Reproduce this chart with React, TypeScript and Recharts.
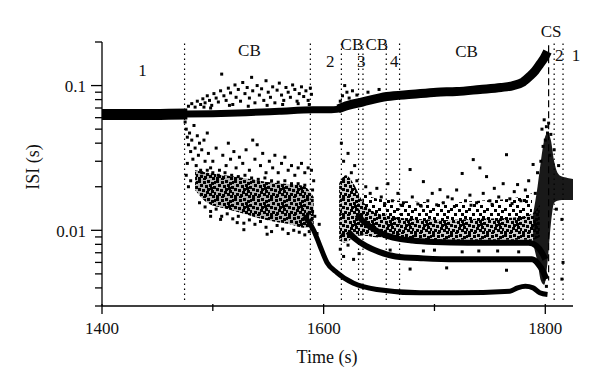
import React from 'react';
import {
  ComposedChart,
  Line,
  Area,
  Scatter,
  XAxis,
  YAxis,
  ReferenceLine,
  ReferenceDot,
} from 'recharts';

// ---- data (time in s, ISI in s) ----

// main ISI band on top (~0.065 s), split where its width changes
const topBandStart: number[][] = [
  [1400, 0.063], [1420, 0.0632], [1440, 0.063], [1460, 0.0633], [1477, 0.0635],
];
const topBandMid: number[][] = [
  [1475, 0.0635], [1500, 0.064], [1530, 0.065], [1560, 0.0665], [1590, 0.068],
  [1605, 0.068], [1615, 0.069],
];
const topBandEnd: number[][] = [
  [1613, 0.069], [1622, 0.073], [1635, 0.077], [1657, 0.084], [1680, 0.087],
  [1702, 0.09], [1720, 0.091], [1741, 0.094], [1760, 0.097], [1771, 0.1],
  [1780, 0.106], [1786, 0.116], [1791, 0.127], [1795, 0.14], [1799, 0.155],
  [1802, 0.172],
];

// shortest ISI branch
const bottomBand: number[][] = [
  [1582, 0.0125], [1588, 0.011], [1591, 0.01], [1597, 0.0077], [1603, 0.006],
  [1612, 0.0051], [1627, 0.0043], [1648, 0.0039], [1687, 0.0037], [1720, 0.0037],
  [1768, 0.0038], [1775, 0.004], [1782, 0.0041], [1789, 0.004], [1795, 0.0037],
  [1802, 0.0036],
];

// two middle branches after 1616 s
const bandA: number[][] = [
  [1630, 0.0128], [1636, 0.0115], [1645, 0.0102], [1655, 0.0093], [1666, 0.0088],
  [1680, 0.0085], [1700, 0.0083], [1730, 0.0082], [1760, 0.0082], [1785, 0.0082],
  [1792, 0.0078], [1797, 0.007], [1800, 0.0063],
];
const bandB: number[][] = [
  [1622, 0.0098], [1628, 0.0088], [1638, 0.0078], [1650, 0.0071], [1665, 0.0066],
  [1690, 0.0064], [1720, 0.0063], [1760, 0.0063], [1788, 0.0063], [1794, 0.0058],
  [1798, 0.0052], [1801, 0.0046],
];

// dense cores of the clouds: [time, low, high]
const leftCore: number[][] = [
  [1484, 0.019, 0.026], [1495, 0.0155, 0.025], [1510, 0.0142, 0.024],
  [1525, 0.0132, 0.0232], [1540, 0.0122, 0.0222], [1555, 0.0115, 0.0213],
  [1570, 0.011, 0.0208], [1582, 0.0104, 0.0202], [1591, 0.0105, 0.017],
];
const rightCoreDense: number[][] = [
  [1614, 0.0085, 0.021], [1620, 0.0082, 0.024], [1627, 0.009, 0.021],
  [1635, 0.0092, 0.016], [1645, 0.009, 0.0135], [1660, 0.0088, 0.0125],
  [1680, 0.0087, 0.012], [1710, 0.0086, 0.0118], [1740, 0.0086, 0.012],
  [1770, 0.0086, 0.0122], [1788, 0.0086, 0.013], [1795, 0.009, 0.015],
];
const rightCoreLight: number[][] = [
  [1635, 0.015, 0.018], [1645, 0.013, 0.0168], [1660, 0.012, 0.0162],
  [1680, 0.0115, 0.0158], [1710, 0.0113, 0.0155], [1740, 0.0115, 0.016],
  [1770, 0.0117, 0.0166], [1788, 0.0125, 0.018],
];
const spikeCore: number[][] = [
  [1789, 0.008, 0.013], [1793, 0.006, 0.02], [1796, 0.0045, 0.03],
  [1799, 0.0042, 0.042], [1802, 0.006, 0.047], [1805, 0.011, 0.042],
  [1808, 0.0155, 0.03], [1811, 0.016, 0.025], [1815, 0.0162, 0.0235],
  [1820, 0.0162, 0.023], [1825, 0.0162, 0.0226],
];

// scattered spikes
const upperCloud: number[][] = [
  [1478, 0.072], [1481, 0.075], [1484, 0.071], [1486, 0.078], [1489, 0.074],
  [1491, 0.081], [1493, 0.076], [1495, 0.085], [1497, 0.079], [1499, 0.073],
  [1501, 0.088], [1503, 0.082], [1505, 0.077], [1507, 0.092], [1508, 0.12],
  [1510, 0.085], [1512, 0.079], [1514, 0.096], [1516, 0.089], [1518, 0.074],
  [1520, 0.101], [1521, 0.083], [1523, 0.094], [1525, 0.078], [1527, 0.105],
  [1529, 0.088], [1531, 0.097], [1533, 0.082], [1535, 0.114], [1536, 0.092],
  [1538, 0.076], [1540, 0.1], [1542, 0.086], [1544, 0.095], [1546, 0.079],
  [1548, 0.108], [1550, 0.09], [1552, 0.083], [1554, 0.098], [1556, 0.076],
  [1558, 0.093], [1560, 0.104], [1562, 0.086], [1564, 0.079], [1566, 0.097],
  [1568, 0.09], [1570, 0.083], [1572, 0.101], [1574, 0.094], [1576, 0.078],
  [1578, 0.088], [1580, 0.098], [1582, 0.084], [1584, 0.092], [1586, 0.079],
  [1588, 0.096], [1589, 0.087], [1615, 0.078], [1617, 0.085], [1619, 0.1],
  [1621, 0.09], [1623, 0.082], [1626, 0.092], [1630, 0.086], [1640, 0.09],
  [1650, 0.094], [1492, 0.071], [1498, 0.07], [1515, 0.073], [1532, 0.072],
  [1549, 0.073], [1563, 0.074], [1577, 0.075], [1587, 0.074],
];
const leftCloud: number[][] = [
  [1475, 0.056], [1476, 0.05], [1477, 0.044], [1478, 0.039], [1479, 0.047],
  [1480, 0.035], [1481, 0.042], [1482, 0.031], [1483, 0.053], [1484, 0.037],
  [1485, 0.028], [1486, 0.045], [1487, 0.033], [1488, 0.04], [1489, 0.026],
  [1490, 0.036], [1492, 0.042], [1493, 0.03], [1495, 0.047], [1496, 0.034],
  [1498, 0.027], [1476, 0.024], [1478, 0.02], [1480, 0.022], [1477, 0.029],
  [1500, 0.03], [1503, 0.037], [1506, 0.026], [1509, 0.033], [1512, 0.028],
  [1514, 0.04], [1516, 0.031], [1519, 0.035], [1521, 0.027], [1524, 0.032],
  [1527, 0.029], [1530, 0.036], [1533, 0.026], [1536, 0.042], [1538, 0.031],
  [1540, 0.039], [1543, 0.028], [1545, 0.034], [1548, 0.025], [1551, 0.03],
  [1554, 0.027], [1556, 0.033], [1559, 0.025], [1562, 0.029], [1565, 0.032],
  [1568, 0.026], [1571, 0.028], [1574, 0.024], [1577, 0.027], [1580, 0.029],
  [1583, 0.025], [1586, 0.027], [1589, 0.026], [1591, 0.022], [1590, 0.019],
  [1490, 0.025], [1495, 0.026], [1500, 0.025], [1505, 0.024], [1511, 0.025],
  [1517, 0.024], [1523, 0.0235], [1529, 0.024], [1535, 0.023], [1541, 0.0225],
  [1547, 0.023], [1553, 0.022], [1559, 0.0215], [1565, 0.022], [1571, 0.021],
  [1577, 0.021], [1583, 0.0205], [1488, 0.0155], [1493, 0.0145], [1498, 0.0135],
  [1503, 0.014], [1508, 0.0125], [1513, 0.013], [1518, 0.012], [1523, 0.0125],
  [1528, 0.0112], [1533, 0.0118], [1538, 0.011], [1543, 0.0115], [1548, 0.0105],
  [1553, 0.0098], [1558, 0.0108], [1563, 0.0102], [1568, 0.0095], [1573, 0.01],
  [1578, 0.0097], [1583, 0.0093], [1587, 0.0098], [1498, 0.0125], [1522, 0.0113],
  [1549, 0.0094], [1528, 0.0101], [1507, 0.0119], [1586, 0.013], [1589, 0.0118],
  [1592, 0.0125], [1594, 0.0095], [1596, 0.011], [1590, 0.0135],
];
const rightCloud: number[][] = [
  [1625, 0.025], [1628, 0.028], [1618, 0.03], [1622, 0.034], [1616, 0.04],
  [1630, 0.022], [1638, 0.02], [1642, 0.018], [1648, 0.0195], [1652, 0.017],
  [1658, 0.021], [1662, 0.016], [1667, 0.018], [1672, 0.0155], [1678, 0.0263],
  [1680, 0.017], [1685, 0.0152], [1690, 0.0217], [1694, 0.016], [1698, 0.018],
  [1705, 0.0191], [1708, 0.0155], [1712, 0.017], [1716, 0.0165], [1720, 0.019],
  [1725, 0.0247], [1728, 0.016], [1732, 0.0175], [1735, 0.0308], [1738, 0.0155],
  [1741, 0.027], [1744, 0.018], [1747, 0.0235], [1750, 0.016], [1754, 0.0195],
  [1758, 0.017], [1762, 0.021], [1765, 0.0333], [1768, 0.0165], [1772, 0.0185],
  [1775, 0.0207], [1778, 0.016], [1782, 0.019], [1785, 0.022], [1789, 0.0285],
  [1791, 0.018], [1793, 0.025], [1615, 0.0074], [1618, 0.0066], [1627, 0.0063],
  [1622, 0.0079], [1632, 0.0069], [1678, 0.0054], [1711, 0.0055], [1765, 0.0053],
  [1740, 0.0072], [1700, 0.0073], [1655, 0.0153], [1670, 0.0149], [1688, 0.0147],
  [1702, 0.015], [1718, 0.0146], [1733, 0.0149], [1752, 0.0151], [1770, 0.0153],
  [1783, 0.0158], [1660, 0.0073], [1690, 0.0072], [1725, 0.0071], [1757, 0.0072],
  [1776, 0.0071],
];
const spikeCloud: number[][] = [
  [1797, 0.05], [1799, 0.058], [1800, 0.042], [1801, 0.052], [1802, 0.047],
  [1798, 0.038], [1803, 0.055], [1796, 0.03], [1804, 0.033], [1805, 0.046],
  [1801, 0.0041], [1799, 0.0046], [1797, 0.0055], [1815, 0.0119], [1816, 0.006],
  [1815, 0.0046], [1810, 0.014], [1812, 0.028], [1808, 0.036],
];

// dotted state boundaries, dashed CS onset
const boundaries = [1474.5, 1588, 1616, 1631.5, 1635.5, 1656.5, 1668.5, 1808, 1816];
const csOnset = 1803;

const regionLabels = [
  { t: 1436.6, v: 0.129, text: '1' },
  { t: 1533, v: 0.177, text: 'CB' },
  { t: 1606, v: 0.149, text: '2' },
  { t: 1625.5, v: 0.195, text: 'CB' },
  { t: 1648, v: 0.195, text: 'CB' },
  { t: 1634, v: 0.149, text: '3' },
  { t: 1663.7, v: 0.149, text: '4' },
  { t: 1729, v: 0.173, text: 'CB' },
  { t: 1805.3, v: 0.237, text: 'CS' },
  { t: 1812.5, v: 0.164, text: '2' },
  { t: 1827.6, v: 0.164, text: '1' },
];

const timeTicks = [1400, 1500, 1600, 1700, 1800];
const isiTicks = [
  0.003, 0.004, 0.005, 0.006, 0.007, 0.008, 0.009, 0.01,
  0.02, 0.03, 0.04, 0.05, 0.06, 0.07, 0.08, 0.09, 0.1, 0.2,
];
const isiLabels: Record<string, string> = { '0.1': '0.1', '0.01': '0.01' };

const FONT = '"Liberation Serif", "Times New Roman", serif';

const pts = (a: number[][]) => a.map(([t, v]) => ({ t, v }));
const rng = (a: number[][]) => a.map(([t, lo, hi]) => ({ t, r: [lo, hi] }));

// speckle textures so the dense clouds read as dots, not flat fills
const SPECK_DENSE = [
  [0, 0], [5, 1], [9, 0], [13, 2], [16, 1], [2, 4], [7, 5], [11, 4], [15, 6],
  [0, 8], [4, 9], [9, 8], [13, 10], [16, 12], [2, 13], [6, 14], [11, 13],
  [14, 15], [0, 15], [8, 11], [5, 16], [12, 7],
];
const SPECK_LIGHT = [
  [1, 1], [9, 2], [14, 0], [5, 6], [12, 7], [0, 10], [8, 11], [15, 12], [4, 15], [11, 15],
];

const Dot = (props: any) => {
  const { cx, cy } = props;
  if (cx == null || cy == null) return null;
  return <rect x={cx - 1.5} y={cy - 1.5} width={3} height={3} fill="#000" />;
};

const TimeTick = (props: any) => {
  const { x, y, payload } = props;
  const major = payload.value % 200 === 0;
  return (
    <g>
      <line x1={x} y1={y - 2} x2={x} y2={y + (major ? 8 : 5)} stroke="#000" strokeWidth={1.3} />
      {major && (
        <text x={x} y={y + 22} textAnchor="middle" dominantBaseline="central"
          fontFamily={FONT} fontSize={17} fill="#111">
          {payload.value}
        </text>
      )}
    </g>
  );
};

const IsiTick = (props: any) => {
  const { x, y, payload } = props;
  const label = isiLabels[String(payload.value)];
  return (
    <g>
      <line x1={x} y1={y} x2={x - (label ? 11 : 7)} y2={y} stroke="#000" strokeWidth={1.3} />
      {label && (
        <text x={x - 16} y={y + 1} textAnchor="end" dominantBaseline="central"
          fontFamily={FONT} fontSize={17} fill="#111">
          {label}
        </text>
      )}
    </g>
  );
};

export default function App() {
  return (
    <div style={{ position: 'absolute', left: 0, top: 0, background: '#fff' }}>
      <ComposedChart width={600} height={390} margin={{ top: 42, right: 27, bottom: 24, left: 0 }}>
        <defs>
          <pattern id="speckDense" width={18} height={18} patternUnits="userSpaceOnUse">
            {SPECK_DENSE.map(([x, y], i) => (
              <rect key={i} x={x} y={y} width={3} height={3} fill="#000" />
            ))}
          </pattern>
          <pattern id="speckLight" width={18} height={18} patternUnits="userSpaceOnUse">
            {SPECK_LIGHT.map(([x, y], i) => (
              <rect key={i} x={x} y={y} width={3} height={3} fill="#000" />
            ))}
          </pattern>
        </defs>
        <XAxis
          dataKey="t"
          type="number"
          domain={[1400, 1825]}
          ticks={timeTicks}
          allowDataOverflow
          height={60}
          tickSize={0}
          tickMargin={0}
          tickLine={false}
          tick={<TimeTick />}
          axisLine={{ stroke: '#000', strokeWidth: 1.3 }}
          label={() => (
            <text x={327} y={357} textAnchor="middle" dominantBaseline="central"
              fontFamily={FONT} fontSize={18} fill="#111">
              Time (s)
            </text>
          )}
        />
        <YAxis
          type="number"
          scale="log"
          domain={[0.003, 0.2]}
          ticks={isiTicks}
          interval={0}
          allowDataOverflow
          width={102}
          tickSize={0}
          tickMargin={0}
          tickLine={false}
          tick={<IsiTick />}
          axisLine={{ stroke: '#000', strokeWidth: 1.3 }}
          label={() => (
            <text x={33} y={167} transform="rotate(-90 33 167)" textAnchor="middle"
              dominantBaseline="central" fontFamily={FONT} fontSize={18} fill="#111">
              ISI (s)
            </text>
          )}
        />

        {boundaries.map((t) => (
          <ReferenceLine
            key={t}
            segment={[{ x: t, y: 0.195 }, { x: t, y: 0.0033 }]}
            stroke="#000"
            strokeWidth={1.2}
            strokeDasharray="1.4 3.6"
          />
        ))}
        <ReferenceLine
          segment={[{ x: csOnset, y: 0.19 }, { x: csOnset, y: 0.0045 }]}
          stroke="#000"
          strokeWidth={1.2}
          strokeDasharray="7 4"
        />

        <Area data={rng(leftCore)} dataKey="r" type="monotone" stroke="none"
          fill="#000" fillOpacity={0.3} isAnimationActive={false} />
        <Area data={rng(leftCore)} dataKey="r" type="monotone" stroke="none"
          fill="url(#speckDense)" fillOpacity={1} isAnimationActive={false} />
        <Area data={rng(rightCoreDense)} dataKey="r" type="monotone" stroke="none"
          fill="#000" fillOpacity={0.2} isAnimationActive={false} />
        <Area data={rng(rightCoreDense)} dataKey="r" type="monotone" stroke="none"
          fill="url(#speckDense)" fillOpacity={1} isAnimationActive={false} />
        <Area data={rng(rightCoreLight)} dataKey="r" type="monotone" stroke="none"
          fill="url(#speckLight)" fillOpacity={1} isAnimationActive={false} />
        <Area data={rng(spikeCore)} dataKey="r" type="monotone" stroke="none"
          fill="#000" fillOpacity={0.9} isAnimationActive={false} />

        <Line data={pts(topBandStart)} dataKey="v" type="monotone" stroke="#000"
          strokeWidth={11} dot={false} isAnimationActive={false} />
        <Line data={pts(topBandMid)} dataKey="v" type="monotone" stroke="#000"
          strokeWidth={7} dot={false} isAnimationActive={false} />
        <Line data={pts(topBandEnd)} dataKey="v" type="monotone" stroke="#000"
          strokeWidth={9} dot={false} isAnimationActive={false} />
        <Line data={pts(bottomBand)} dataKey="v" type="monotone" stroke="#000"
          strokeWidth={5} dot={false} isAnimationActive={false} />
        <Line data={pts(bandA)} dataKey="v" type="monotone" stroke="#000"
          strokeWidth={6} dot={false} isAnimationActive={false} />
        <Line data={pts(bandB)} dataKey="v" type="monotone" stroke="#000"
          strokeWidth={6} dot={false} isAnimationActive={false} />

        <Scatter data={pts(upperCloud)} dataKey="v" shape={<Dot />} isAnimationActive={false} />
        <Scatter data={pts(leftCloud)} dataKey="v" shape={<Dot />} isAnimationActive={false} />
        <Scatter data={pts(rightCloud)} dataKey="v" shape={<Dot />} isAnimationActive={false} />
        <Scatter data={pts(spikeCloud)} dataKey="v" shape={<Dot />} isAnimationActive={false} />

        {regionLabels.map((l, i) => (
          <ReferenceDot
            key={i}
            x={l.t}
            y={l.v}
            r={0}
            fill="none"
            stroke="none"
            ifOverflow="visible"
            label={{ value: l.text, position: 'center', fontFamily: FONT, fontSize: 17, fill: '#111' }}
          />
        ))}
      </ComposedChart>
    </div>
  );
}
